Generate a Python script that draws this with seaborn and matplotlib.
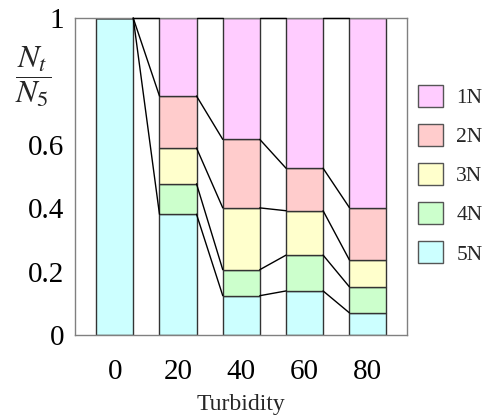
import numpy as np
import pandas as pd
import seaborn as sns
import matplotlib
matplotlib.use("Agg")
import matplotlib.pyplot as plt
from matplotlib.patches import Patch

# values (fraction of N5 in each class)
turbidity = ["0", "20", "40", "60", "80"]
n5 = [1.000, 0.381, 0.124, 0.139, 0.070]
n4 = [np.nan, 0.096, 0.082, 0.113, 0.082]
n3 = [np.nan, 0.113, 0.195, 0.140, 0.085]
n2 = [0.000, 0.164, 0.216, 0.134, 0.165]
n1 = [0.000, 0.246, 0.383, 0.474, 0.598]

series_names = ["5N", "4N", "3N", "2N", "1N"]
series_vals = [n5, n4, n3, n2, n1]
series_colors = ["#CCFFFF", "#CCFFCC", "#FFFFCC", "#FFCCCC", "#FFCCFF"]

sns.set_style("white")
plt.rcParams["font.family"] = ["Liberation Serif", "DejaVu Serif"]
plt.rcParams["mathtext.fontset"] = "stix"

fig = plt.figure(figsize=(4.89, 4.18), dpi=100)
ax = fig.add_axes([75 / 489, 1 - 335 / 418, 332 / 489, 317 / 418])

bar_w = 0.585
bottom = np.zeros(len(turbidity))
tops = []
for name, vals, col in zip(series_names, series_vals, series_colors):
    v = np.array(vals, dtype=float)
    h = np.nan_to_num(v)
    df = pd.DataFrame({"turbidity": turbidity, "value": h})
    sns.barplot(data=df, x="turbidity", y="value", color=col, bottom=bottom,
                width=bar_w, edgecolor="#333333", linewidth=1.0,
                saturation=1, ax=ax, zorder=2)
    bottom = bottom + h
    top = bottom.copy()
    top[np.isnan(v)] = np.nan
    tops.append(top)

# series lines between neighbouring bars
for top in tops:
    for i in range(len(turbidity) - 1):
        if np.isnan(top[i]) or np.isnan(top[i + 1]):
            continue
        ax.plot([i + bar_w / 2, i + 1 - bar_w / 2], [top[i], top[i + 1]],
                color="black", lw=1.0, zorder=3, clip_on=False)

ax.set_xlim(-0.627, 4.618)
ax.set_ylim(0, 1)
ax.set_yticks([0, 0.2, 0.4, 0.6, 1.0])
ax.set_yticklabels(["0", "0.2", "0.4", "0.6", "1"])
ax.tick_params(axis="both", length=0, labelsize=21, colors="black")
ax.tick_params(axis="y", pad=8)
ax.tick_params(axis="x", pad=17)
ax.set_ylabel("")
ax.set_xlabel("Turbidity", fontsize=17, labelpad=7)
for s in ax.spines.values():
    s.set_color("#808080")
    s.set_linewidth(1.0)

fig.text(33 / 489, 1 - 77 / 418, r"$\dfrac{N_t}{N_5}$", fontsize=23,
         ha="center", va="center")

handles = [Patch(facecolor=c, edgecolor="#555555", linewidth=1.0)
           for c in series_colors[::-1]]
ax.legend(handles, series_names[::-1], loc="upper left",
          bbox_to_anchor=(418 / 489, 1 - 85 / 418),
          bbox_transform=fig.transFigure, frameon=False, fontsize=15.5,
          handlelength=1.18, handleheight=1.18, handletextpad=0.6,
          labelspacing=0.74, borderpad=0, borderaxespad=0)

fig.savefig("out.png", dpi=100)
